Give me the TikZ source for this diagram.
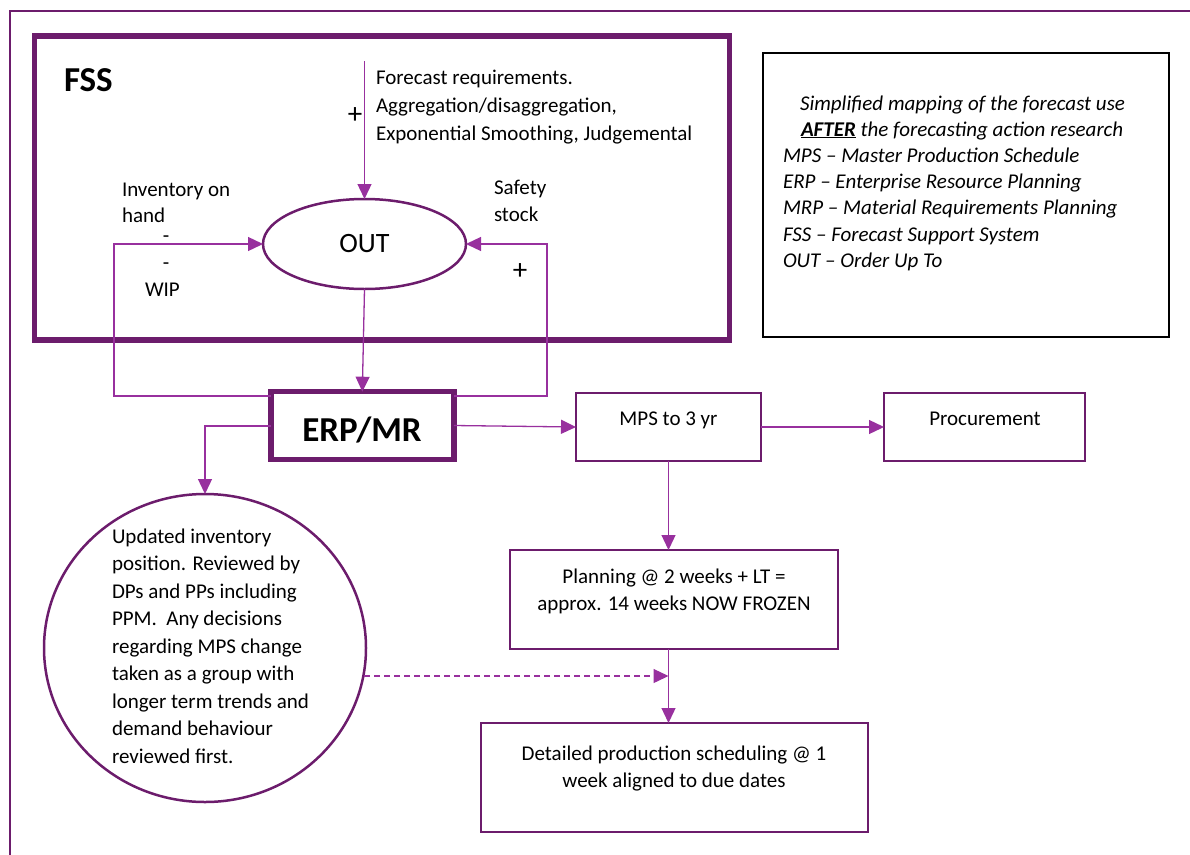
\documentclass[tikz,border=0pt]{standalone}
\usepackage{fontspec}
\setmainfont{Carlito}
\usetikzlibrary{arrows.meta,shapes.geometric}
\definecolor{boxpurple}{RGB}{108,28,108}
\definecolor{linepurple}{RGB}{152,48,158}
\begin{document}
\begin{tikzpicture}[x=1pt,y=-1pt,
  every node/.style={inner sep=0pt,outer sep=0pt},
  txt/.style={font=\fontsize{21}{26}\selectfont},
  sign/.style={font=\fontsize{29}{30}\selectfont},
  bigbox/.style={draw=boxpurple,line width=5.5pt,rectangle},
  stdbox/.style={draw=boxpurple,line width=2.5pt,rectangle},
  conn/.style={draw=linepurple,line width=1.3pt,-{Triangle[length=15pt,width=14pt]}},
  dconn/.style={conn,dash pattern=on 6pt off 4pt}
]
\useasboundingbox (0,0) rectangle (1190,854);
% outer frame
\draw[draw=boxpurple,line width=2.5pt] (10,860) -- (10,11) -- (1195,11);

% FSS box
\node[bigbox,minimum width=695pt,minimum height=304pt] (fss) at (382,188) {};
\node[anchor=base west,font=\bfseries\fontsize{35}{40}\selectfont] (fsslbl) at (64,91) {FSS};

% OUT ellipse
\node[ellipse,draw=boxpurple,line width=2.5pt,minimum width=203pt,minimum height=90pt,
      font=\fontsize{28}{30}\selectfont] (out) at (364.5,244) {OUT};

% forecast input
\coordinate (ftop) at (364.5,61);
\draw[conn] (ftop) -- (out.north);
\node[sign] (plus1) at (355,116) {+};
\node[anchor=base west,align=left,font=\fontsize{21}{28}\selectfont] (fctxt) at (376,140.3)
  {Forecast requirements.\\Aggregation/disaggregation,\\Exponential Smoothing, Judgemental};

% side labels
\node[txt,anchor=base west,align=left] (invtxt) at (122,222) {Inventory on\\hand};
\node[txt] (minus1) at (166,239) {-};
\node[txt] (minus2) at (166,266) {-};
\node[txt,anchor=base west] (wiptxt) at (145,296) {WIP};
\node[anchor=base west,align=left,font=\fontsize{21}{27}\selectfont] (sstxt) at (494,221.5) {Safety\\stock};
\node[sign] (plus2) at (520,272) {+};

% legend
\node[draw=black,line width=1.5pt,minimum width=406pt,minimum height=284pt] (legbox) at (966,195) {};
\node[anchor=base west,align=left,font=\itshape\fontsize{21}{26.2}\selectfont] (legtxt) at (783,267.2)
  {\hspace*{17pt}Simplified mapping of the forecast use\\
   \hspace*{18pt}\textbf{\underline{AFTER}} the forecasting action research\\
   MPS – Master Production Schedule\\
   ERP – Enterprise Resource Planning\\
   MRP – Material Requirements Planning\\
   FSS – Forecast Support System\\
   OUT – Order Up To};

% ERP box
\node[bigbox,minimum width=183pt,minimum height=67.6pt] (erp) at (362.3,425.5) {};
\node[anchor=base,font=\bfseries\fontsize{35}{40}\selectfont] (erplbl) at (362,441) {ERP/MR};

% feedback loops
\coordinate (lfb) at (114,396);
\coordinate (rfb) at (547,396);
\draw[conn] (erp.west |- lfb) -- (lfb) |- (out.west);
\draw[conn] (erp.east |- rfb) -- (rfb) |- (out.east);
\draw[conn] (out.south) -- (erp.north);

% circle
\node[ellipse,draw=boxpurple,line width=2.5pt,minimum width=322pt,minimum height=308pt] (circ) at (205,648) {};
\node[anchor=base west,align=left,font=\fontsize{21}{27.5}\selectfont] (circtxt) at (112,763)
  {Updated inventory\\position. Reviewed by\\DPs and PPs including\\PPM.\ \ Any decisions\\regarding MPS change\\taken as a group with\\longer term trends and\\demand behaviour\\reviewed first.};
\coordinate (ec) at (205,426);
\draw[conn] (erp.west |- ec) -- (ec) -- (circ.north);

% right chain
\node[stdbox,minimum width=185pt,minimum height=68pt] (mps) at (668.5,427) {};
\node[txt,anchor=base] (mpstxt) at (668.5,425) {MPS to 3 yr};
\node[stdbox,minimum width=201pt,minimum height=68pt] (proc) at (984.5,427) {};
\node[txt,anchor=base] (proctxt) at (985,425) {Procurement};
\node[stdbox,minimum width=328pt,minimum height=99pt] (plan) at (674,599.5) {};
\node[anchor=base,align=center,font=\fontsize{21}{27}\selectfont] (plantxt) at (674,610)
  {Planning @ 2 weeks + LT =\\approx. 14 weeks NOW FROZEN};
\node[stdbox,minimum width=387pt,minimum height=109pt] (det) at (674.5,777.5) {};
\node[anchor=base,align=center,font=\fontsize{21}{27}\selectfont] (dettxt) at (674,787)
  {Detailed production scheduling @ 1\\week aligned to due dates};

\draw[conn] (erp.east) -- (mps.west);
\draw[conn] (mps.east) -- (proc.west);
\draw[conn] (mps.south) -- (mps.south |- plan.north);
\draw[conn] (plan.south -| mps.south) -- (mps.south |- det.north);
\coordinate (dstart) at (364,676);
\draw[dconn] (dstart) -- (mps.south |- dstart);
\end{tikzpicture}
\end{document}
